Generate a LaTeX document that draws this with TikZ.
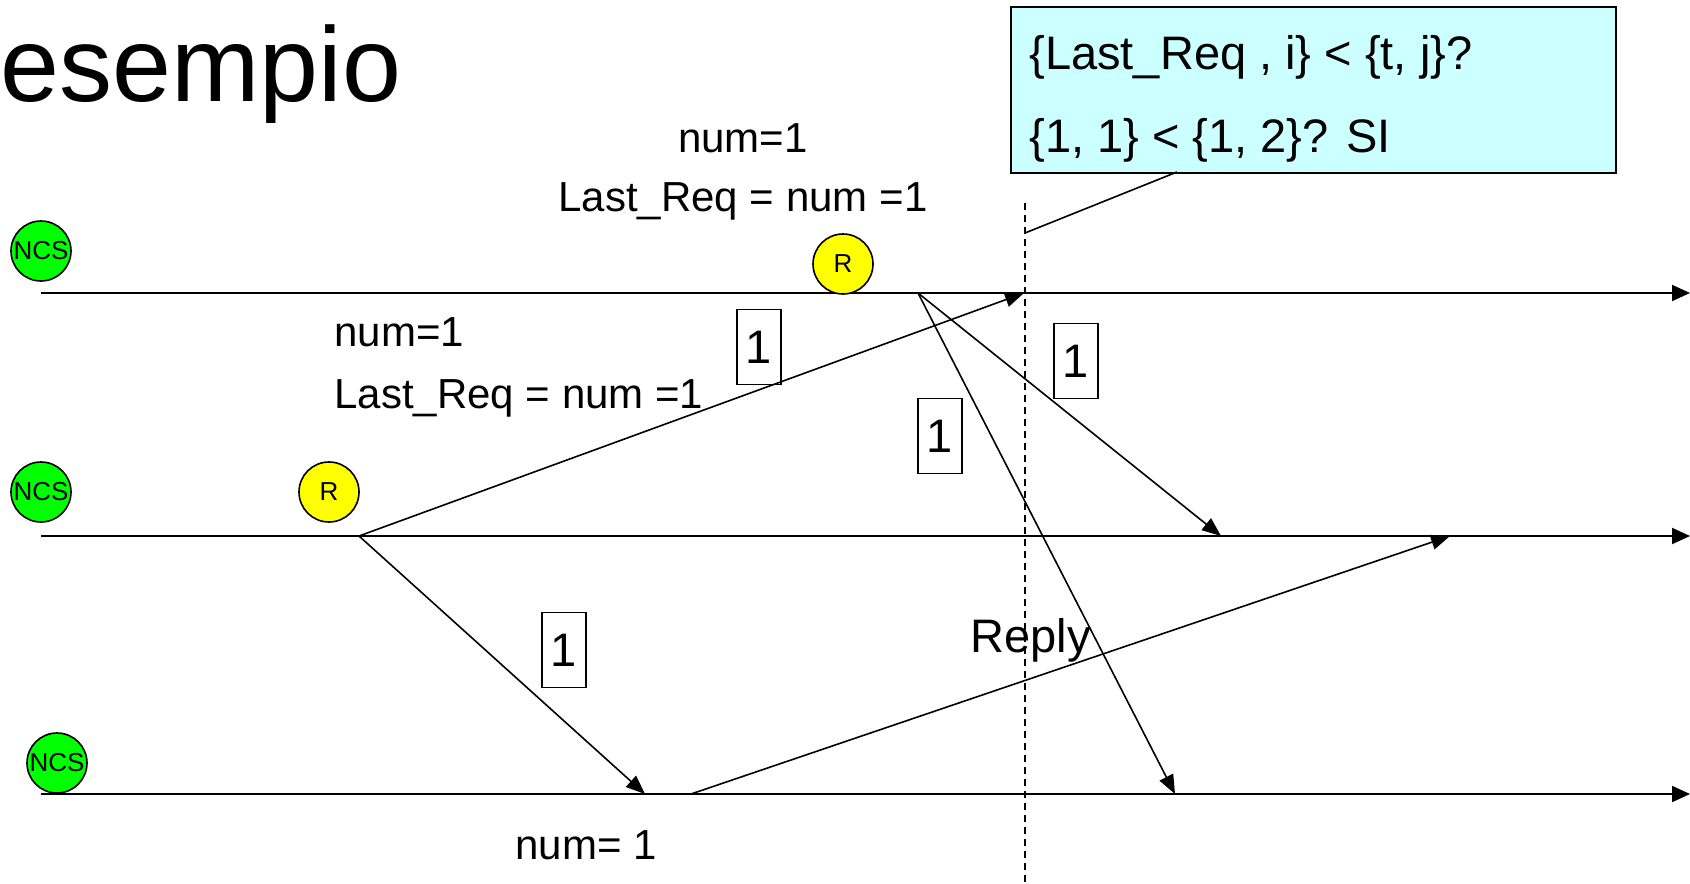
\documentclass[tikz,border=0pt]{standalone}
\usepackage{fontspec}
\setmainfont{Liberation Sans}
\usetikzlibrary{arrows.meta}
\definecolor{ncsgreen}{RGB}{0,255,0}
\definecolor{reqyellow}{RGB}{255,255,0}
\definecolor{notecyan}{RGB}{204,255,255}
\begin{document}
\begin{tikzpicture}[x=0.5pt,y=-0.5pt,
  proc/.style={circle,draw,line width=0.8pt,minimum size=30pt,inner sep=0pt,
    font=\fontsize{13}{13}\selectfont},
  ncs/.style={proc,fill=ncsgreen},
  req/.style={proc,fill=reqyellow},
  msgbox/.style={draw,line width=0.6pt,minimum width=22pt,minimum height=37.5pt,
    inner sep=0pt,font=\fontsize{23.5}{24}\selectfont},
  timeline/.style={line width=1pt,-{Triangle[length=9pt,width=8pt]}},
  msg/.style={line width=0.8pt,-{Triangle[length=9.5pt,width=7.5pt]}},
  lbl/.style={inner sep=0pt,font=\fontsize{21}{21}\selectfont},
  big/.style={inner sep=0pt,font=\fontsize{23.5}{24}\selectfont},
]
\useasboundingbox (0,0) rectangle (1690,883);

% title
\node[inner sep=0pt,anchor=base west,font=\fontsize{53}{53}\selectfont] (title) at (0,102) {esempio};

% time lines of the three processes
\coordinate (l1s) at (41,293);  \coordinate (l1e) at (1690,293);
\coordinate (l2s) at (41,536);  \coordinate (l2e) at (1690,536);
\coordinate (l3s) at (41,794);  \coordinate (l3e) at (1690,794);
\draw[timeline] (l1s) -- (l1e);
\draw[timeline] (l2s) -- (l2e);
\draw[timeline] (l3s) -- (l3e);

% process states
\node[ncs] (ncs1) at (41,251) {NCS};
\node[ncs] (ncs2) at (41,492) {NCS};
\node[ncs] (ncs3) at (57,763) {NCS};
\node[req] (r1) at (843,264) {R};
\node[req] (r2) at (329,492) {R};

% observation instant
\coordinate (cut) at (1025,203);
\coordinate (cutend) at (1025,883);
\draw[line width=0.7pt,dash pattern=on 3.5pt off 2.5pt] (cut) -- (cutend);

% note box
\node[draw,fill=notecyan,line width=0.8pt,minimum width=302.5pt,minimum height=83pt,
  inner sep=0pt,anchor=north west] (note) at (1010,6) {};
\node[big,anchor=base west] (q1) at (1029,70) {\{Last\_Req , i\} < \{t, j\}?};
\node[big,anchor=base west] (q2) at (1029,152) {\{1, 1\} < \{1, 2\}? SI};
\coordinate (tail) at (1177,172);
\coordinate (hook) at (1025,233);
\draw[line width=0.8pt] (tail) -- (hook);

% messages
\coordinate (s2) at (359,536);
\coordinate (s1) at (918,293);
\coordinate (s3) at (691,794);
\coordinate (t21) at (1024,293);
\coordinate (t23) at (645,794);
\coordinate (t12) at (1221,536);
\coordinate (t13) at (1175,794);
\coordinate (t32) at (1450,536);
\draw[msg] (s2) -- (t21);
\draw[msg] (s2) -- (t23);
\draw[msg] (s1) -- (t12);
\draw[msg] (s1) -- (t13);
\draw[msg] (s3) -- (t32);

% message timestamps
\node[msgbox] (b1) at (759,347) {1};
\node[msgbox] (b2) at (1076,361) {1};
\node[msgbox] (b3) at (940,436) {1};
\node[msgbox] (b4) at (564,650) {1};

% labels
\node[lbl,anchor=base] (n1) at (743,152) {num=1};
\node[lbl,anchor=base] (lr1) at (743,211) {Last\_Req = num =1};
\node[lbl,anchor=base west] (n2) at (334,346) {num=1};
\node[lbl,anchor=base west] (lr2) at (334,408) {Last\_Req = num =1};
\node[lbl,anchor=base west] (n3) at (515,859) {num= 1};
\node[big,anchor=base west] (reply) at (970,652) {Reply};
\end{tikzpicture}
\end{document}
